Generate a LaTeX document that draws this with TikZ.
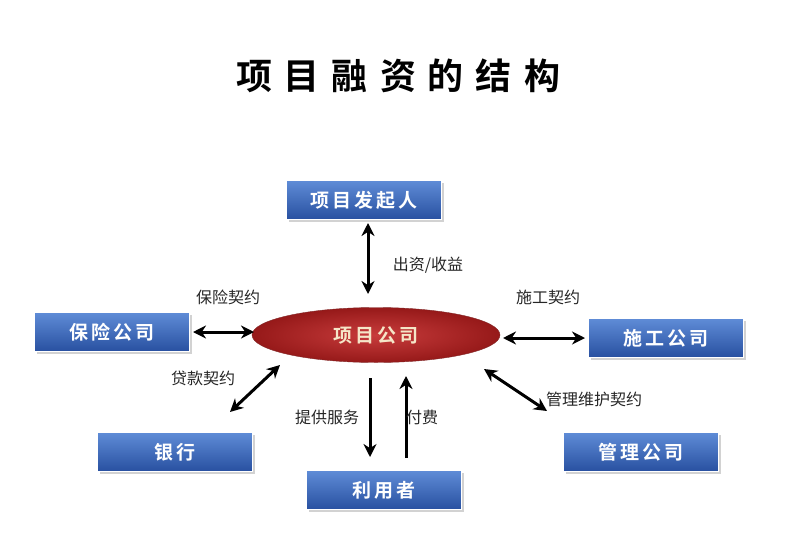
\documentclass[tikz,border=0pt]{standalone}
\usepackage{fontspec}
\newfontfamily\cjk{Noto Sans CJK SC}
\newfontfamily\cjkb{Noto Sans CJK SC Bold}
\usetikzlibrary{arrows.meta,shadows,shapes.geometric}
\begin{document}
\begin{tikzpicture}[x=1pt,y=-1pt,
 box/.style={draw=white,line width=0.6pt,minimum width=155pt,minimum height=39pt,top color={rgb,255:red,95;green,140;blue,215},bottom color={rgb,255:red,40;green,80;blue,160},text=white,font=\cjkb\fontsize{19}{21}\selectfont,drop shadow={shadow xshift=2pt,shadow yshift=-2pt,fill=black!35}},
 lab/.style={font=\cjk\fontsize{16}{18}\selectfont,text=black!85},
 arr/.style={line width=3pt,-{Stealth[length=13pt,width=13pt]}},
 darr/.style={line width=3pt,{Stealth[length=13pt,width=13pt]}-{Stealth[length=13pt,width=13pt]}}]
\useasboundingbox (0,0) rectangle (800,546);
\node[font=\cjkb\fontsize{36}{40}\selectfont] (title) at (398,76) {项\,\,目\,\,融\,\,资\,\,的\,\,结\,\,构};
\node[box] (fq) at (364,200) {项\,目\,发\,起\,人};
\node[ellipse,minimum width=248pt,minimum height=55pt,inner color={rgb,255:red,200;green,60;blue,60},outer color={rgb,255:red,150;green,25;blue,25},draw={rgb,255:red,130;green,40;blue,40},text={rgb,255:red,245;green,230;blue,200},font=\cjkb\fontsize{19}{21}\selectfont] (gs) at (376,335) {项\,目\,公\,司};
\node[box] (bx) at (112,332) {保\,险\,公\,司};
\node[box] (sg) at (666,338) {施\,工\,公\,司};
\node[box] (yh) at (175,452) {银\,行};
\node[box] (ly) at (384,490) {利\,用\,者};
\node[box] (gl) at (641,452) {管\,理\,公\,司};
\coordinate (a1) at (368,223); \coordinate (a2) at (368,294);
\draw[darr] (a1) -- (a2);
\node[lab] (l1) at (428,265) {出资/收益};
\coordinate (b1) at (193,332); \coordinate (b2) at (254,332);
\draw[darr] (b1) -- (b2);
\node[lab] (l2) at (228,297) {保险契约};
\coordinate (s1) at (585,338); \coordinate (s2) at (503,338);
\draw[darr] (s1) -- (s2);
\node[lab] (l3) at (548,297) {施工契约};
\coordinate (y1) at (230,412); \coordinate (y2) at (280,365);
\draw[darr] (y1) -- (y2);
\node[lab] (l4) at (203,378) {贷款契约};
\coordinate (d1) at (370,378); \coordinate (d2) at (370,457);
\draw[arr] (d1) -- (d2);
\coordinate (u1) at (406,458); \coordinate (u2) at (406,376);
\draw[arr] (u1) -- (u2);
\node[lab,fill=white,inner sep=1pt] (l5) at (327,417) {提供服务};
\node[lab] (l6) at (422,417) {付费};
\coordinate (m1) at (484,369); \coordinate (m2) at (547,411);
\draw[darr] (m1) -- (m2);
\node[lab,fill=white,inner sep=1pt] (l7) at (594,399) {管理维护契约};
\end{tikzpicture}
\end{document}
